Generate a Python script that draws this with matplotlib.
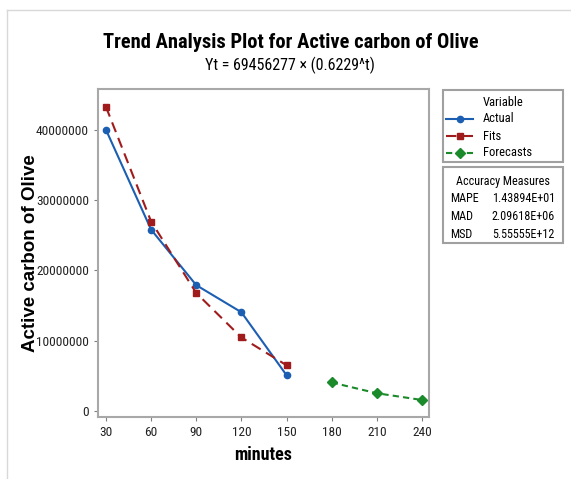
import matplotlib.pyplot as plt
from matplotlib.lines import Line2D

# data
t_actual = [30, 60, 90, 120, 150]
actual = [40000000, 25800000, 17900000, 14050000, 5100000]
fits = [43260000, 26950000, 16790000, 10460000, 6510000]
t_fore = [180, 210, 240]
forecasts = [4060000, 2530000, 1570000]
xticks = [30, 60, 90, 120, 150, 180, 210, 240]
yticks = [0, 10000000, 20000000, 30000000, 40000000]
series_names = ['Actual', 'Fits', 'Forecasts']
measures = [("MAPE", "1.43894E+01"), ("MAD", "2.09618E+06"), ("MSD", "5.55555E+12")]

narrow = ['Roboto Condensed', 'Archivo Narrow', 'DejaVu Sans']
narrow_bold = ['Roboto Condensed', 'Barlow Semi Condensed', 'DejaVu Sans']
plt.rcParams['font.family'] = narrow

fig = plt.figure(figsize=(5.71, 4.79), dpi=100)
W, H = 571, 479
fx = lambda px: px / W
fy = lambda py: 1 - py / H
ax = fig.add_axes([fx(98), fy(417), (429 - 98) / W, (417 - 89) / H])

blue = '#1c5fb2'
red = '#a01c1c'
green = '#1a8a2a'
styles = [dict(color=blue, lw=1.5, ls='-', marker='o', ms=4.5),
          dict(color=red, lw=1.5, ls=(0, (5, 3)), marker='s', ms=4.5),
          dict(color=green, lw=1.5, ls=(0, (3, 2)), marker='D', ms=5)]
ax.plot(t_actual, actual, **styles[0])
ax.plot(t_actual, fits, **styles[1])
ax.plot(t_fore, forecasts, **styles[2])

ax.set_xlim(24.7, 244.7)
ax.set_ylim(-850000, 45800000)
ax.set_xticks(xticks)
ax.set_yticks(yticks)
ax.set_yticklabels([str(v) for v in yticks])
ax.tick_params(labelsize=9.6, color='#808080', length=3, colors='#222222')
for s in ax.spines.values():
    s.set_color('#a8a8a8')
    s.set_linewidth(1.5)

ax.set_xlabel('minutes', fontsize=13, fontweight='bold', family=narrow_bold, labelpad=5)
fig.text(fx(31), fy(253), 'Active carbon of Olive', rotation=90, ha='center', va='center',
         fontsize=13.5, fontweight='bold', family=['Liberation Sans', 'DejaVu Sans'])

fig.text(fx(291), fy(42), 'Trend Analysis Plot for Active carbon of Olive',
         ha='center', va='center', fontsize=14.8, fontweight='bold', family=narrow_bold)
fig.text(fx(290), fy(65), 'Yt = 69456277 \u00d7 (0.6229^t)',
         ha='center', va='center', fontsize=11.5)

# legend box (drawn by hand to match the layout)
fig.add_artist(plt.Rectangle((fx(443), fy(162)), (563 - 443) / W, (162 - 90) / H,
                             transform=fig.transFigure, fill=False, edgecolor='#a0a0a0', lw=1.5))
fig.text(fx(503), fy(103), 'Variable', ha='center', va='center', fontsize=9)
for i, (name, st) in enumerate(zip(series_names, styles)):
    y = fy(119 + i * 17)
    fig.add_artist(Line2D([fx(446), fx(473)], [y, y], transform=fig.transFigure,
                          color=st['color'], lw=st['lw'], ls=st['ls']))
    fig.add_artist(Line2D([fx(459.5)], [y], transform=fig.transFigure, color=st['color'],
                          marker=st['marker'], ms=st['ms'], ls='none'))
    fig.text(fx(483), y, name, ha='left', va='center', fontsize=9)

# accuracy measures box
fig.add_artist(plt.Rectangle((fx(443), fy(243)), (563 - 443) / W, (243 - 167) / H,
                             transform=fig.transFigure, fill=False, edgecolor='#a0a0a0', lw=1.5))
fig.text(fx(503), fy(181), 'Accuracy Measures', ha='center', va='center', fontsize=8.7)
for i, (k, v) in enumerate(measures):
    y = fy(198 + i * 18)
    fig.text(fx(450), y, k, ha='left', va='center', fontsize=8.7)
    fig.text(fx(555), y, v, ha='right', va='center', fontsize=8.7)

# outer frame lines
fig.add_artist(Line2D([fx(7), fx(7)], [0, fy(10)], transform=fig.transFigure, color='#d8d8d8', lw=1))
fig.add_artist(Line2D([fx(7), 1], [fy(10), fy(10)], transform=fig.transFigure, color='#d8d8d8', lw=1))

fig.savefig('out.png', dpi=100)
